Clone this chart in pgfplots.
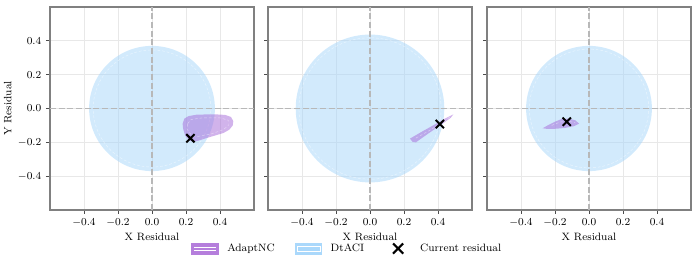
\documentclass[border=0pt]{standalone}
\usepackage{pgfplots}
\pgfplotsset{compat=1.18}
\definecolor{dtblue}{HTML}{A6D6FA}
\definecolor{adpurple}{HTML}{A467D8}
\definecolor{adlegend}{HTML}{B57EDC}
\definecolor{dtlegend}{HTML}{AAD8FB}
\pgfplotsset{
  resid/.style={
    scale only axis, width=153pt, height=152.25pt,
    xmin=-0.6, xmax=0.6, ymin=-0.6, ymax=0.6,
    xtick={-0.4,-0.2,0,0.2,0.4}, ytick={-0.4,-0.2,0,0.2,0.4},
    xticklabel style={/pgf/number format/.cd,fixed,fixed zerofill,precision=1},
    yticklabel style={/pgf/number format/.cd,fixed,fixed zerofill,precision=1},
    tick label style={font=\footnotesize},
    label style={font=\footnotesize},
    grid=major, grid style={black!9, line width=0.5pt},
    tick pos=left, tick align=outside, major tick length=3pt,
    tick style={black!70, line width=0.6pt},
    axis line style={black!50, line width=0.8pt},
    xlabel={X Residual},
    xlabel style={yshift=2pt},
  },
  zeroline/.style={black!28, dash pattern=on 4.5pt off 2pt, line width=0.8pt, forget plot},
  blob/.style={fill=adpurple, fill opacity=0.5, draw=none, forget plot},
  blobin/.style={draw=white, draw opacity=0.45, line width=0.35pt, dash pattern=on 2pt off 1.5pt, forget plot},
  cur/.style={only marks, mark=x, mark size=4.4pt, line width=1.5pt, black, forget plot},
}
\begin{document}
\begin{tikzpicture}
\path[use as bounding box] (-37.5pt,-42pt) rectangle (485.25pt,157.5pt);
% Panel 1
\begin{axis}[resid, at={(0pt,0pt)}, ylabel={Y Residual}, ylabel style={yshift=-2pt}]
\fill[dtblue, fill opacity=0.5] (axis cs:0,0) circle[radius=0.37];
\draw[white, opacity=0.5, line width=0.35pt, dash pattern=on 2pt off 1.5pt] (axis cs:0,0) circle[radius=0.346];
\addplot[blob] coordinates {(0.18,-0.09) (0.19,-0.06) (0.215,-0.045) (0.26,-0.037) (0.32,-0.035) (0.38,-0.035) (0.43,-0.038) (0.465,-0.05) (0.478,-0.075) (0.475,-0.10) (0.455,-0.125) (0.42,-0.145) (0.37,-0.16) (0.32,-0.175) (0.28,-0.188) (0.245,-0.198) (0.22,-0.19) (0.195,-0.16) (0.183,-0.12)} --cycle;
\addplot[blobin] coordinates {(0.21,-0.09) (0.23,-0.065) (0.3,-0.055) (0.4,-0.055) (0.45,-0.07) (0.45,-0.1) (0.42,-0.125) (0.35,-0.15) (0.27,-0.165) (0.23,-0.155) (0.205,-0.12)} --cycle;
\addplot[zeroline] coordinates {(0,-0.6) (0,0.6)};
\addplot[zeroline] coordinates {(-0.6,0) (0.6,0)};
\addplot[cur] coordinates {(0.226,-0.176)};
\end{axis}
% Panel 2
\begin{axis}[resid, at={(163.5pt,0pt)}, yticklabels={},
  legend style={at={(0.39,-0.19)}, anchor=center, draw=none, fill=none, font=\footnotesize,
    /tikz/every even column/.append style={column sep=13pt}},
  legend columns=3, legend cell align=left]
\fill[dtblue, fill opacity=0.5] (axis cs:0,0) circle[radius=0.437];
\draw[white, opacity=0.5, line width=0.35pt, dash pattern=on 2pt off 1.5pt] (axis cs:0,0) circle[radius=0.418];
\addplot[blob] coordinates {(0.235,-0.178) (0.30,-0.14) (0.38,-0.095) (0.44,-0.06) (0.49,-0.035) (0.475,-0.055) (0.42,-0.095) (0.34,-0.15) (0.27,-0.2) (0.25,-0.197)} --cycle;
\addplot[blobin] coordinates {(0.27,-0.175) (0.35,-0.13) (0.43,-0.08) (0.47,-0.05)};
\addplot[zeroline] coordinates {(0,-0.6) (0,0.6)};
\addplot[zeroline] coordinates {(-0.6,0) (0.6,0)};
\addplot[cur] coordinates {(0.411,-0.092)};
\addlegendimage{legend image code/.code={
  \path[draw=none, fill=none] (0pt,-4.5pt) (25pt,4.5pt);
  \fill[adlegend, draw=none] (0pt,-4.5pt) rectangle (20.8pt,4.5pt);
  \draw[white, line width=0.35pt] (2pt,-1.2pt) -- (18.8pt,-1.2pt);
  \draw[white, line width=0.35pt] (2pt,1.2pt) -- (18.8pt,1.2pt);}}
\addlegendentry{AdaptNC}
\addlegendimage{legend image code/.code={
  \path[draw=none, fill=none] (0pt,-4.5pt) (25pt,4.5pt);
  \fill[dtlegend, draw=none] (0pt,-4.5pt) rectangle (20.8pt,4.5pt);
  \draw[white, line width=0.35pt] (2pt,-1.8pt) rectangle (18.8pt,1.8pt);}}
\addlegendentry{DtACI}
\addlegendimage{legend image code/.code={
  \path[draw=none, fill=none] (0pt,-4.5pt) (25pt,4.5pt);
  \draw[black, line width=1.6pt] (6.6pt,-3.8pt) -- (14.2pt,3.8pt) (6.6pt,3.8pt) -- (14.2pt,-3.8pt);}}
\addlegendentry{Current residual}
\end{axis}
% Panel 3
\begin{axis}[resid, at={(327.75pt,0pt)}, yticklabels={}]
\fill[dtblue, fill opacity=0.5] (axis cs:0,0) circle[radius=0.37];
\draw[white, opacity=0.5, line width=0.35pt, dash pattern=on 2pt off 1.5pt] (axis cs:0,0) circle[radius=0.351];
\addplot[blob] coordinates {(-0.273,-0.117) (-0.24,-0.098) (-0.2,-0.078) (-0.16,-0.062) (-0.12,-0.06) (-0.08,-0.07) (-0.058,-0.09) (-0.09,-0.105) (-0.14,-0.115) (-0.2,-0.12) (-0.25,-0.12)} --cycle;
\addplot[blobin] coordinates {(-0.22,-0.1) (-0.17,-0.08) (-0.12,-0.075) (-0.08,-0.085)};
\addplot[zeroline] coordinates {(0,-0.6) (0,0.6)};
\addplot[zeroline] coordinates {(-0.6,0) (0.6,0)};
\addplot[cur] coordinates {(-0.131,-0.078)};
\end{axis}
\end{tikzpicture}
\end{document}
